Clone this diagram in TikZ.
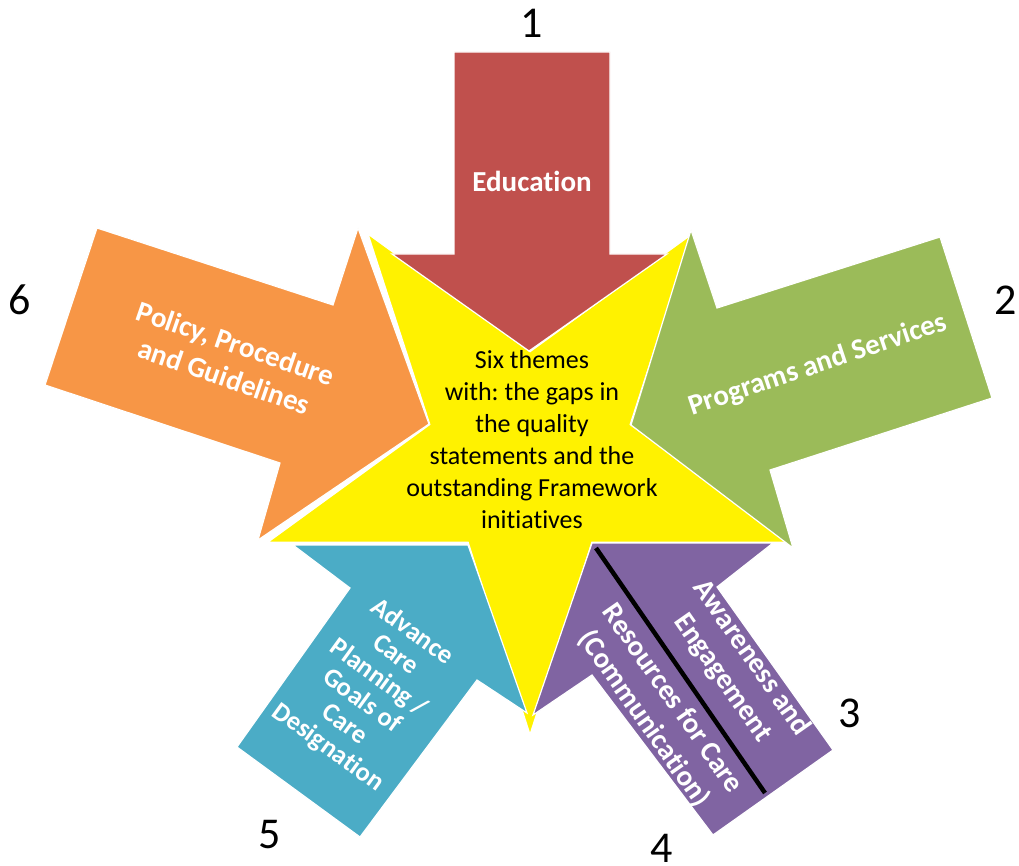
\documentclass[tikz,border=0pt]{standalone}
\usepackage{fontspec}
\setmainfont{Carlito}[Ligatures=NoCommon]
\definecolor{eduRed}{HTML}{C0504D}
\definecolor{progGreen}{HTML}{9BBB59}
\definecolor{awarePurple}{HTML}{8064A2}
\definecolor{acpBlue}{HTML}{4BACC6}
\definecolor{policyOrange}{HTML}{F79646}
\begin{document}
\frenchspacing
\begin{tikzpicture}[x=1pt,y=-1pt,
  arrowshape/.style={draw=white, line width=1.2pt, line join=miter},
  lbl/.style={text=white, font=\fontsize{29}{35}\selectfont\bfseries, align=center, inner sep=0pt},
  smalllbl/.style={lbl, font=\fontsize{26.5}{28.6}\selectfont\bfseries},
  num/.style={font=\fontsize{44}{44}\selectfont, inner sep=0pt},
  core/.style={text=black, font=\fontsize{26}{32}\selectfont, align=center, inner sep=0pt},
]
\useasboundingbox (0,0) rectangle (1019,866);

% central five-pointed star, point down
\coordinate (c) at (530,457);
\filldraw[fill=yellow, draw=white, line width=1.5pt, shift={(c)}]
  (90:278) -- (126:105.5) -- (162:276) -- (198:105.5) -- (234:276)
  -- (270:105.5) -- (306:276) -- (342:105.5) -- (18:276) -- (54:105.5) -- cycle;

% 1: Education (down)
\filldraw[arrowshape, fill=eduRed]
  (454,52) -- (610,52) -- (610,254) -- (667,254) -- (529,351)
  -- (392,254) -- (454,254) -- cycle;
% 2: Programs and Services
\filldraw[arrowshape, fill=progGreen]
  (940,237) -- (992,398) -- (770,470) -- (793,548) -- (631,425)
  -- (691,230) -- (717,308) -- cycle;
% 3/4: Awareness and Engagement / Resources for Care
\filldraw[arrowshape, fill=awarePurple]
  (592,543) -- (773,543) -- (717,587) -- (833,750) -- (713,835)
  -- (592,675) -- (533,715) -- cycle;
% 5: Advance Care Planning
\filldraw[arrowshape, fill=acpBlue]
  (293,545) -- (468,545) -- (527,713) -- (477,680) -- (360,837)
  -- (237,747) -- (350,588) -- cycle;
% 6: Policy, Procedure and Guidelines
\filldraw[arrowshape, fill=policyOrange]
  (97,228) -- (333,305) -- (358,228) -- (429,424) -- (258,540)
  -- (280,463) -- (45,385) -- cycle;

% divider on the purple arrow
\coordinate (divA) at (596,548);
\coordinate (divB) at (765,793);
\draw[black, line width=4.5pt] (divA) -- (divB);

% labels
\node[lbl] (edu) at (532,181) {Education};
\node[lbl, rotate=18.5] (prog) at (818,365) {Programs and Services};
\node[lbl, rotate=-19] (pol) at (230,360) {Policy, Procedure\\and Guidelines};
\node[smalllbl, rotate=-36] (acp) at (370,690) {Advance\\Care\\Planning /\\Goals of\\Care\\Designation};
\node[lbl, rotate=-55] (aware) at (737,668) {Awareness and\\Engagement};
\node[lbl, rotate=-55] (res) at (658,709) {Resources for Care\\(Communication)};

\node[core] (six) at (532,440) {Six themes\\with: the gaps in\\the quality\\statements and the\\outstanding Framework\\initiatives};

% numbering
\node[num] (n1) at (532,23) {1};
\node[num] (n2) at (1006,300) {2};
\node[num] (n3) at (850,713) {3};
\node[num] (n4) at (662,848) {4};
\node[num] (n5) at (270,835) {5};
\node[num] (n6) at (20,300) {6};
\end{tikzpicture}
\end{document}
